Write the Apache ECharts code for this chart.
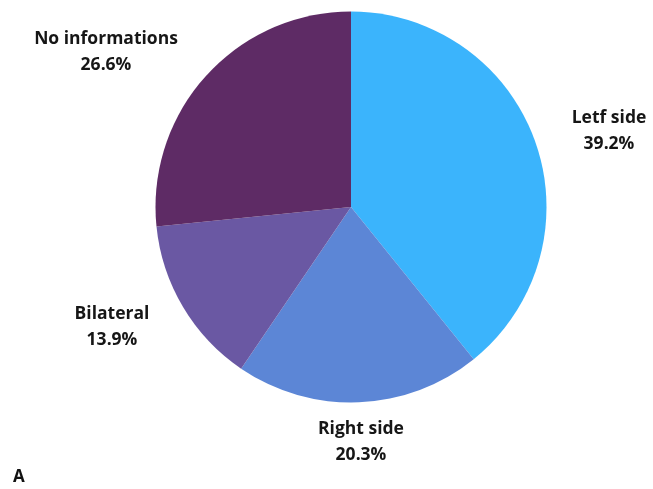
<!DOCTYPE html>
<html>
<head>
<meta charset="utf-8">
<script src="https://cdn.jsdelivr.net/npm/echarts@6/dist/echarts.min.js"></script>
<style>html,body{margin:0;padding:0;background:#fff}#c{width:653px;height:489px}</style>
</head>
<body>
<div id="c"></div>
<script>
const categories = ['Letf side', 'Right side', 'Bilateral', 'No informations'];
const values = [39.2, 20.3, 13.9, 26.6];
const colors = ['#3BB4FC', '#5C86D6', '#6A58A3', '#5E2B65'];

const labelCenters = {
  'Letf side': [609, 131],
  'Right side': [361, 442],
  'Bilateral': [112, 327],
  'No informations': [106, 52]
};

const chart = echarts.init(document.getElementById('c'), null, {renderer: 'canvas'});
chart.setOption({
  animation: false,
  backgroundColor: '#ffffff',
  graphic: [{
    type: 'text', left: 13, top: 469,
    style: {text: 'A', font: 'bold 17px "Open Sans"', fill: '#111'}
  }],
  series: [{
    type: 'pie',
    center: [351, 207],
    radius: 195.5,
    startAngle: 90,
    clockwise: true,
    data: categories.map((n, i) => ({name: n, value: values[i], itemStyle: {color: colors[i]}})),
    label: {
      show: true,
      position: 'outside',
      formatter: p => p.name + '\n' + p.value.toFixed(1) + '%',
      fontFamily: 'Open Sans',
      fontWeight: 'bold',
      fontSize: 17.5,
      lineHeight: 26,
      color: '#161616',
      align: 'center',
      overflow: 'none',
      width: 200
    },
    labelLine: {show: false},
    labelLayout: function (params) {
      const c = labelCenters[categories[params.dataIndex]];
      return {x: c[0], y: c[1], align: 'center', verticalAlign: 'middle'};
    },
    emphasis: {disabled: true}
  }]
});
</script>
</body>
</html>
